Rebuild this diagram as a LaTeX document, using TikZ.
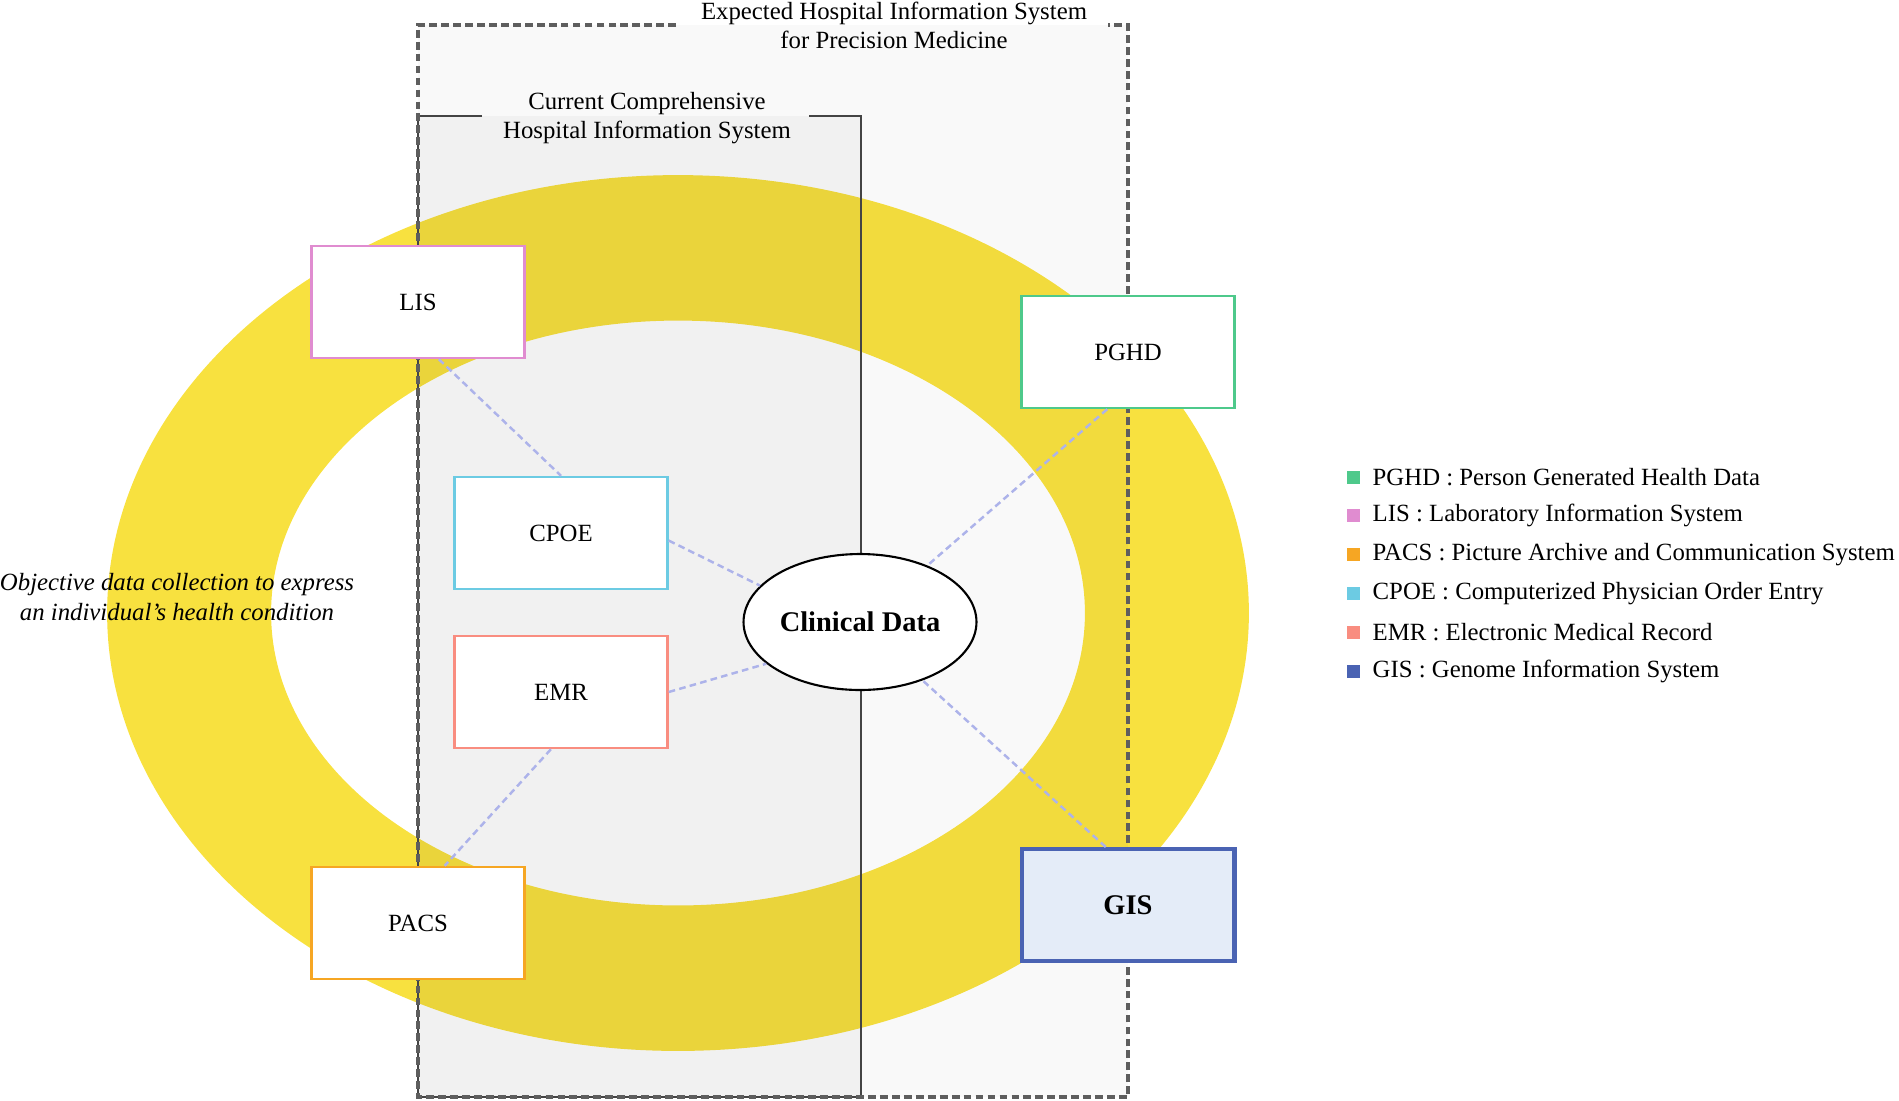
\documentclass[tikz,border=0pt]{standalone}
\usepackage{fontspec}
\setmainfont{Liberation Serif}
\usetikzlibrary{shapes.geometric, positioning}
\usepackage{xcolor}

\definecolor{ringyellow}{HTML}{F8E13F}
\definecolor{pghdgreen}{HTML}{4EC98B}
\definecolor{lispink}{HTML}{E08CD0}
\definecolor{pacsorange}{HTML}{F6A623}
\definecolor{cpoecyan}{HTML}{6CCBE3}
\definecolor{emrsalmon}{HTML}{F98D80}
\definecolor{gisblue}{HTML}{4A63B3}
\definecolor{gisfill}{HTML}{E4ECF8}
\definecolor{linklav}{HTML}{ADB3EA}
\definecolor{framegray}{HTML}{5E5E5E}
\definecolor{framedark}{HTML}{444444}

\newcommand{\labelfont}{\fontsize{14.1pt}{16.6pt}\selectfont}
\newcommand{\boldlabelfont}{\fontsize{16.2pt}{19pt}\selectfont\bfseries}

\begin{document}
\begin{tikzpicture}[x=0.02cm,y=-0.02cm,font=\labelfont,
    sysbox/.style={draw, line width=1.4pt, fill=white, minimum width=4.26cm, minimum height=2.24cm, inner sep=0pt},
    link/.style={linklav, line width=1.4pt, dash pattern=on 3.8pt off 2.4pt},
    legsq/.style={minimum size=0.26cm, inner sep=0pt},
    legtxt/.style={inner sep=0pt, anchor=west}]
            \useasboundingbox (0,0) rectangle (1899,1100);

            % draw the yellow ring
            \fill[ringyellow, even odd rule] (678,613) ellipse [x radius=11.42cm, y radius=8.76cm]
                (678,613) ellipse [x radius=8.14cm, y radius=5.85cm];

            % shade the two systems
            \fill[black, fill opacity=0.025] (418,25) rectangle (1128,1097);
            \fill[black, fill opacity=0.032] (418,116) rectangle (861,1097);

            % draw the frames, open where the titles sit
            \draw[framedark, line width=0.9pt] (482,116) -- (418,116) -- (418,1097) -- (861,1097) -- (861,116) -- (809,116);
            \draw[framegray, line width=1.8pt, dash pattern=on 4.4pt off 2.4pt] (676,25) -- (418,25) -- (418,1097) -- (1128,1097) -- (1128,25) -- (1108,25);

            % titles
            \node[align=center] (expected) at (894,25.5) {Expected Hospital Information System\\for Precision Medicine};
            \node[align=center] (current) at (647,118) {Current Comprehensive\\Hospital Information System};
            \node[align=center, font=\labelfont\itshape] (goal) at (177,597) {Objective data collection to express\\an individual's health condition};

            % systems
            \node[sysbox, draw=lispink] (LIS) at (418,302) {LIS};
            \node[sysbox, draw=cpoecyan] (CPOE) at (561,533) {CPOE};
            \node[sysbox, draw=emrsalmon] (EMR) at (561,692) {EMR};
            \node[sysbox, draw=pacsorange] (PACS) at (418,923) {PACS};
            \node[sysbox, draw=pghdgreen] (PGHD) at (1128,352) {PGHD};
            \node[sysbox, draw=gisblue, fill=gisfill, line width=2.3pt, font=\boldlabelfont] (GIS) at (1128,905) {GIS};

            % clinical data in the middle
            \node[ellipse, draw, line width=1.2pt, fill=white, minimum width=4.66cm, minimum height=2.72cm, inner sep=0pt, font=\boldlabelfont] (clinical) at (860,622) {Clinical Data};

            % dashed links
            \draw[link] (LIS.290) -- (CPOE.north);
            \draw[link] (CPOE.-4) -- (clinical.160);
            \draw[link] (EMR.east) -- (clinical.204);
            \draw[link] (EMR.260) -- (PACS.65);
            \draw[link] (PGHD.250) -- (clinical.40);
            \draw[link] (GIS.111) -- (clinical.317);

            % legend
            \foreach \sysabbr/\sysname/\col [count=\i] in {PGHD/Person Generated Health Data/pghdgreen, LIS/Laboratory Information System/lispink, PACS/Picture Archive and Communication System/pacsorange, CPOE/Computerized Physician Order Entry/cpoecyan, EMR/Electronic Medical Record/emrsalmon, GIS/Genome Information System/gisblue} {
                \node[legsq, fill=\col] (key\i) at (1353,{477+38.8*(\i-1)}) {};
                \node[legtxt, right=0.25cm of key\i] (entry\i) {\sysabbr\ : \sysname};
            }
        \end{tikzpicture}
\end{document}
